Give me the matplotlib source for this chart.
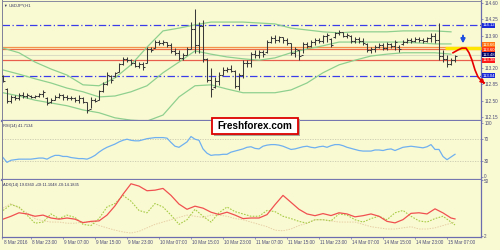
import matplotlib
matplotlib.use('Agg')
import matplotlib.pyplot as plt
import numpy as np
from matplotlib.transforms import blended_transform_factory, ScaledTranslation
from matplotlib.patches import Rectangle

plt.rcParams['font.family'] = ['Liberation Sans', 'DejaVu Sans']

symbol = 'USDJPY,H1'
rsi_label = 'RSI(14) 41.7134'
adx_label = 'ADX(14) 19.0360 +DI:11.1048 -DI:14.1835'
watermark = 'Freshforex.com'

highs = [113.05,112.77,112.62,112.62,112.66,112.69,112.66,112.62,112.62,112.66,
 112.73,112.58,112.56,112.62,112.66,112.64,112.62,112.60,112.58,112.62,
 112.58,112.47,112.58,112.56,112.73,112.90,113.12,113.05,113.12,113.31,
 113.44,113.44,113.40,113.37,113.33,113.33,113.65,113.65,113.80,113.80,
 113.80,113.76,113.74,113.63,113.59,113.53,113.65,114.19,114.47,114.19,
 114.23,113.42,113.20,113.01,113.12,113.22,113.22,113.27,113.16,113.10,
 113.37,113.37,113.55,113.59,113.59,113.59,113.80,113.89,113.91,113.89,
 113.87,113.85,113.74,113.65,113.59,113.76,113.76,113.80,113.85,113.85,
 113.91,113.96,113.85,113.98,114.02,113.98,113.96,113.91,113.87,113.87,
 113.85,113.74,113.65,113.70,113.74,113.74,113.76,113.74,113.80,113.70,
 113.80,113.85,113.85,113.87,113.87,113.85,113.87,113.96,113.96,114.17,
 113.59,113.48,113.42,113.48]
lows = [112.90,112.45,112.45,112.51,112.51,112.56,112.56,112.56,112.56,112.58,
 112.58,112.41,112.45,112.51,112.56,112.51,112.51,112.51,112.47,112.45,
 112.45,112.23,112.34,112.47,112.51,112.69,112.84,112.88,113.01,113.12,
 113.27,113.33,113.27,113.22,113.20,113.16,113.31,113.55,113.63,113.70,
 113.70,113.65,113.53,113.48,113.37,113.37,113.48,113.62,113.53,113.53,
 113.33,112.90,112.58,112.77,112.84,113.05,113.12,113.12,112.77,112.73,
 112.99,113.22,113.22,113.42,113.42,113.44,113.53,113.74,113.74,113.76,
 113.74,113.70,113.48,113.44,113.37,113.53,113.63,113.65,113.70,113.74,
 113.74,113.76,113.65,113.85,113.91,113.87,113.85,113.74,113.74,113.74,
 113.70,113.55,113.53,113.55,113.63,113.59,113.59,113.63,113.59,113.55,
 113.70,113.74,113.74,113.76,113.76,113.74,113.76,113.76,113.74,113.37,
 113.33,113.22,113.27,113.33]
opens = [113.03,112.75,112.50,112.58,112.55,112.62,112.60,112.60,112.58,112.60,
 112.64,112.56,112.46,112.52,112.58,112.62,112.58,112.56,112.55,112.52,
 112.56,112.47,112.32,112.52,112.52,112.70,112.86,113.03,113.02,113.12,
 113.28,113.40,113.38,113.30,113.25,113.28,113.32,113.60,113.64,113.76,
 113.74,113.76,113.70,113.56,113.52,113.42,113.48,113.62,114.05,113.70,
 114.10,113.40,112.95,112.80,112.92,113.05,113.15,113.18,113.14,112.82,
 113.05,113.32,113.30,113.50,113.48,113.55,113.54,113.76,113.84,113.80,
 113.86,113.80,113.74,113.52,113.58,113.48,113.72,113.68,113.76,113.80,
 113.78,113.88,113.82,113.86,113.95,113.98,113.90,113.90,113.78,113.82,
 113.78,113.72,113.58,113.60,113.66,113.70,113.64,113.72,113.68,113.66,
 113.72,113.76,113.80,113.78,113.82,113.80,113.78,113.84,113.90,113.80,
 113.45,113.40,113.28,113.38]
closes = [112.92,112.50,112.58,112.55,112.62,112.60,112.62,112.58,112.60,112.64,
 112.68,112.45,112.52,112.58,112.62,112.58,112.56,112.55,112.52,112.56,
 112.48,112.30,112.52,112.50,112.70,112.86,113.05,112.95,113.10,113.28,
 113.40,113.38,113.30,113.25,113.28,113.22,113.60,113.58,113.76,113.74,
 113.76,113.70,113.56,113.52,113.42,113.48,113.60,114.05,113.70,114.10,
 113.40,112.95,112.75,112.92,113.05,113.15,113.18,113.14,112.82,113.05,
 113.32,113.30,113.50,113.48,113.55,113.50,113.76,113.84,113.80,113.86,
 113.80,113.74,113.52,113.60,113.45,113.72,113.68,113.76,113.80,113.78,
 113.88,113.92,113.70,113.95,113.98,113.90,113.92,113.78,113.82,113.78,
 113.74,113.58,113.60,113.66,113.70,113.64,113.72,113.68,113.76,113.62,
 113.76,113.80,113.78,113.82,113.80,113.78,113.84,113.90,113.80,113.45,
 113.40,113.28,113.38,113.46]

bb_idx = list(range(0, 113, 4))
bb_upper = [113.63,113.53,113.33,113.18,113.05,112.84,112.82,112.99,113.27,113.65,
 114.00,114.06,114.13,114.19,114.19,114.19,114.17,114.15,114.06,114.02,
 113.98,113.96,113.98,113.98,113.98,114.00,114.00,114.00,113.98]
bb_mid = [113.16,113.07,112.97,112.88,112.77,112.69,112.58,112.60,112.69,112.82,
 113.10,113.33,113.57,113.50,113.44,113.40,113.37,113.42,113.53,113.61,
 113.68,113.76,113.76,113.76,113.76,113.76,113.74,113.72,113.72]
bb_lower = [112.67,112.60,112.51,112.45,112.39,112.30,112.24,112.13,112.08,112.06,
 112.19,112.58,112.82,112.84,112.75,112.67,112.67,112.67,112.73,112.88,
 113.10,113.27,113.37,113.46,113.50,113.53,113.53,113.53,113.50]

level_blue = [114.12, 113.04]
level_orange = [113.66, 113.60]
level_red = [113.38]
last_price = 113.48

forecast_bar = [112.5, 113.75, 114.75, 115.75, 116.5, 117.25, 118, 118.75, 119.75, 121.0]
forecast_price = [113.53, 113.59, 113.63, 113.63, 113.53, 113.37, 113.16, 113.01, 112.92, 112.82]
zone_bars = [110.5, 119.6]
zone_price = 113.635
signal_bar = 115.0
signal_from, signal_to = 113.96, 113.67

rsi = [36,27,31,32,33,33,33,33,34,35,
 35,33,37,40,40,38,38,36,35,34,
 34,33,36,40,46,51,55,58,61,65,
 68,70,68,67,67,69,71,72,73,73,
 73,72,64,57,55,60,65,75,70,68,
 52,44,40,41,41,42,42,46,48,50,
 52,55,56,53,52,57,59,60,60,59,
 57,54,51,52,54,56,57,55,54,56,
 57,55,58,60,60,58,55,53,51,49,
 48,48,48,50,50,49,51,52,49,52,
 55,56,57,56,55,54,56,60,51,51,
 38,32,37,42]

adx_idx = list(range(0, 113, 2)) + [113]
adx = [16.5,19,22,21,19,20,17.5,16.5,17.5,16.5,13.5,14.6,15,20,28,38,47,45,41,41.5,
 43,37,29.5,25,27.7,26,22.5,20.5,22.5,20,17,17.5,17.5,20.4,29,37,31,25,21,19.5,
 21.3,19.6,22,21,18.5,19.5,21,19,14.6,13.3,16.1,21.5,22,21,25.4,21.9,17.5,16.7]
plus_di = [24,29,27,20,13,14,21,17,20,18,12,11,17,27,30,37,32,24,22,30,
 27,20,12,16,25,19,14,22,27,23,21,19,19,24,23,19,17,14.6,13,16,
 16,15,21,20,16,14,17,19,16,22,24,19,15,14,17,19,14,11.5]
minus_di = [26,30,26,22,17,15,14,14,13,13,14,14,11,9,7,5.5,4.5,6,9,12,
 14,16,18,20,19,18,20,20,19,17,16,14,12,10,7,6.5,8,11,13,16,
 16,15,14,14,14,12,10,9,8,8,9,10,8,8,9,11,13,14]

time_labels = ['8 Mar 2016','8 Mar 23:00','9 Mar 07:00','9 Mar 15:00','9 Mar 23:00',
 '10 Mar 07:00','10 Mar 15:00','10 Mar 23:00','11 Mar 07:00','11 Mar 15:00',
 '11 Mar 23:00','14 Mar 07:00','14 Mar 15:00','14 Mar 23:00','15 Mar 07:00']
time_bars = [-0.25,7,15,23,31,39,47,55,63,71,79,87,95,103,111]

main_ticks = [114.60,114.25,113.90,113.55,113.20,112.85,112.50,112.15]
main_tick_labels = ['114.60','114.25','113.90','','113.20','112.85','112.50','112.15']
rsi_ticks = [0,30,70,100]
adx_ticks = [2,50]

# ---------------- styling ----------------
W, H = 500, 250
bg = '#fafad2'
axis_col = '#6b6bb0'
txt_col = '#4a4a7a'
fs_tick = 3.3

fig = plt.figure(figsize=(5, 2.5), dpi=100)
fig.patch.set_facecolor(bg)

def rect(x0, y0, x1, y1):
    return [x0 / W, 1 - y1 / H, (x1 - x0) / W, (y1 - y0) / H]

ax = fig.add_axes(rect(2, 0.5, 481, 121))
ax_r = fig.add_axes(rect(2, 121, 481, 180), sharex=ax)
ax_a = fig.add_axes(rect(2, 180, 481, 237), sharex=ax)

for a in (ax, ax_r, ax_a):
    a.set_facecolor(bg)
    a.tick_params(axis='y', which='both', left=False, right=True, labelleft=False,
                  labelright=True, direction='out', length=1.5, width=0.5, pad=0.8,
                  labelsize=fs_tick, colors=axis_col, labelcolor=txt_col)
    a.spines['right'].set_color(axis_col)
    a.spines['right'].set_linewidth(0.9)
    a.spines['left'].set_color('#80809a')
    a.spines['left'].set_linewidth(0.7)

ax.spines['top'].set_color('#8888a0'); ax.spines['top'].set_linewidth(0.7)
ax.spines['bottom'].set_color('#7777b0'); ax.spines['bottom'].set_linewidth(1.6)
ax_r.spines['top'].set_visible(False)
ax_r.spines['bottom'].set_color('#7777b0'); ax_r.spines['bottom'].set_linewidth(1.6)
ax_a.spines['top'].set_visible(False)
ax_a.spines['bottom'].set_color(axis_col); ax_a.spines['bottom'].set_linewidth(0.9)

ax.tick_params(axis='x', bottom=False, labelbottom=False)
ax_r.tick_params(axis='x', bottom=False, labelbottom=False)

ax.set_xlim(-0.25, 119.5)

# ---------------- main price panel ----------------
ax.set_ylim(112.062, 114.654)
ax.set_yticks(main_ticks)
ax.set_yticklabels(main_tick_labels)

for lv in level_blue:
    ax.axhline(lv, color='#3b3bea', lw=0.9, ls=(0, (6, 2, 1, 2)), zorder=1)
ax.axhline(last_price, color='#dcdcc4', lw=0.8, zorder=1)
ax.axhline(level_orange[0], color='#f4914a', lw=0.9, zorder=1)
ax.axhline(level_orange[1], color='#ec6b48', lw=0.9, zorder=1)
for lv in level_red:
    ax.axhline(lv, color='#e8604c', lw=0.9, zorder=1)

ax.plot(bb_idx, bb_upper, color='#8fd08f', lw=0.9, zorder=2)
ax.plot(bb_idx, bb_mid, color='#8fd08f', lw=0.9, zorder=2)
ax.plot(bb_idx, bb_lower, color='#8fd08f', lw=0.9, zorder=2)

xb = np.arange(len(highs))
bar_col = '#3a3a3a'
ax.vlines(xb, lows, highs, color=bar_col, lw=0.75, zorder=3)
ax.hlines(opens, xb - 0.4, xb, color=bar_col, lw=0.75, zorder=3)
ax.hlines(closes, xb, xb + 0.4, color=bar_col, lw=0.75, zorder=3)

ax.plot(zone_bars, [zone_price, zone_price], color='#ffe600', lw=2.4,
        solid_capstyle='butt', zorder=4, clip_on=False)
ax.plot(forecast_bar[:-1], forecast_price[:-1], color='#e60000', lw=1.2, zorder=5, clip_on=False)
ax.annotate('', xy=(forecast_bar[-1], forecast_price[-1]),
            xytext=(forecast_bar[-2], forecast_price[-2]),
            arrowprops=dict(arrowstyle='-|>', color='#e60000', lw=1.2, mutation_scale=6),
            annotation_clip=False, zorder=5)
ax.annotate('', xy=(signal_bar, signal_to), xytext=(signal_bar, signal_from),
            arrowprops=dict(arrowstyle='-|>', color='#1f4fe0', lw=1.4, mutation_scale=6),
            zorder=6)

# price boxes on right axis (stacked boxes nudged apart by a few pixels)
tr = blended_transform_factory(ax.transAxes, ax.transData)
boxes = [(level_blue[0], '#1a2ad8', 0.0),
         (level_blue[1], '#1a2ad8', 0.0),
         (level_orange[0], '#ff7410', 1.7),
         (level_orange[1], '#ff3a10', -0.5),
         (last_price, '#000068', 0.1),
         (level_red[0], '#ff1a1a', -0.4)]
for val, fc, dy in boxes:
    off = ScaledTranslation(1.2 / 100, dy / 100, fig.dpi_scale_trans)
    ax.text(1.0, val, '%.2f' % val, transform=tr + off, ha='left', va='center',
            fontsize=3.1, color='white', clip_on=False, zorder=10,
            bbox=dict(boxstyle='square,pad=0.12', fc=fc, ec='none'))

# ---------------- RSI ----------------
ax_r.set_ylim(-5.7, 103.8)
ax_r.set_yticks(rsi_ticks)
ax_r.set_yticklabels([str(v) for v in rsi_ticks])
for lv in (30, 70):
    ax_r.axhline(lv, color='#c8c8b0', lw=0.6, ls=(0, (1.5, 1.5)))
ax_r.plot(np.arange(len(rsi)), rsi, color='#6fb0f0', lw=0.9)

# ---------------- ADX ----------------
ax_a.set_ylim(1.12, 50.26)
ax_a.set_yticks(adx_ticks)
ax_a.set_yticklabels([str(v) for v in adx_ticks])
ax_a.plot(adx_idx, minus_di, color='#e6cfa6', lw=0.7, ls=(0, (1.5, 1.2)))
ax_a.plot(adx_idx, plus_di, color='#a8cc48', lw=0.8, ls=(0, (1.5, 1.2)))
ax_a.plot(adx_idx, adx, color='#f05050', lw=0.9)

# keep the RSI "0" and ADX "50" labels from touching at the panel seam
fig.canvas.draw()
up = ScaledTranslation(0, 0.9 / 100, fig.dpi_scale_trans)
down = ScaledTranslation(0, -0.9 / 100, fig.dpi_scale_trans)
for lbl in ax_r.get_yticklabels():
    if lbl.get_text() == '0':
        lbl.set_transform(lbl.get_transform() + up)
for lbl in ax_a.get_yticklabels():
    if lbl.get_text() == '50':
        lbl.set_transform(lbl.get_transform() + down)

ax_a.set_xticks(time_bars)
ax_a.set_xticklabels(time_labels)
ax_a.tick_params(axis='x', direction='out', length=1.5, width=0.5, pad=1.0,
                 labelsize=fs_tick, colors=axis_col, labelcolor=txt_col)
xoff = ScaledTranslation(1.5 / 100, 0, fig.dpi_scale_trans)
for lbl in ax_a.get_xticklabels():
    lbl.set_horizontalalignment('left')
    lbl.set_transform(lbl.get_transform() + xoff)

# ---------------- texts ----------------
fig.text(3 / W, 1 - 5.5 / H, '\u25bc', fontsize=2.6, color='#303060', va='center')
fig.text(8.5 / W, 1 - 5.5 / H, symbol, fontsize=3.0, color='#303060', va='center')
fig.text(3 / W, 1 - 125.5 / H, rsi_label, fontsize=2.9, color='#303060', va='center')
fig.text(3 / W, 1 - 185 / H, adx_label, fontsize=2.9, color='#303060', va='center')

shadow = Rectangle((213.5 / W, 1 - 135.8 / H), 86.5 / W, 16.6 / H, transform=fig.transFigure,
                   fc='#a8a898', ec='none', zorder=20)
box = Rectangle((211.5 / W, 1 - 134.2 / H), 86.0 / W, 16.4 / H, transform=fig.transFigure,
                fc='white', ec='#dd0000', lw=1.3, zorder=21)
fig.add_artist(shadow)
fig.add_artist(box)
fig.text(254.5 / W, 1 - 126.2 / H, watermark, fontsize=7.2, fontweight='bold',
         color='black', ha='center', va='center', zorder=22, family='Liberation Sans')

fig.savefig('out.png', dpi=100, facecolor=bg)
